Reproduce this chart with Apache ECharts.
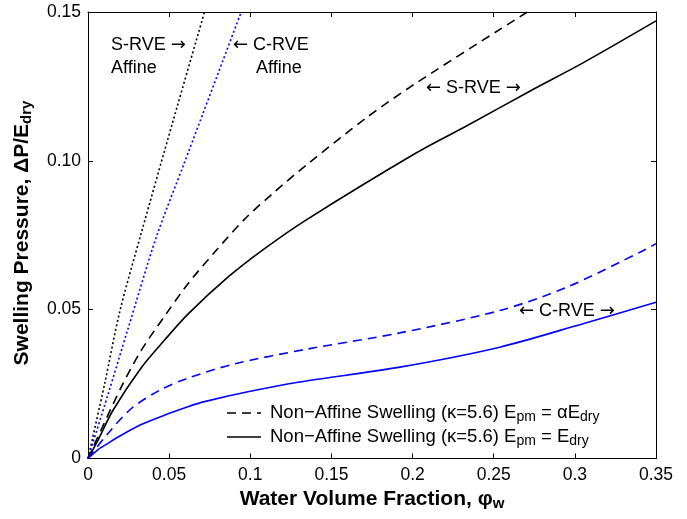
<!DOCTYPE html>
<html>
<head>
<meta charset="utf-8">
<script src="https://cdn.jsdelivr.net/npm/echarts@6/dist/echarts.min.js"></script>
<style>
  html, body { margin: 0; padding: 0; background: #fff; }
  #chart { width: 687px; height: 519px; }
</style>
</head>
<body>
<div id="chart"></div>
<script>
// [phi_w, dP/E_dry]
const sRveAffine = [[0, 0], [0.0103, 0.0252], [0.0195, 0.0492], [0.0328, 0.0757], [0.0521, 0.1128], [0.0718, 0.15]]
const cRveAffine = [[0, 0], [0.0123, 0.0215], [0.0246, 0.0435], [0.0421, 0.0744], [0.0595, 0.0995], [0.0944, 0.15]]
const sRveAlpha = [[0, 0], [0.0205, 0.024], [0.0328, 0.0363], [0.0482, 0.0486], [0.0616, 0.0587], [0.078, 0.0693],
    [0.0965, 0.0804], [0.115, 0.0896], [0.1355, 0.099], [0.1716, 0.1145], [0.2024, 0.1262], [0.2707, 0.15]]
const sRveDry = [[0, 0], [0.0062, 0.0062], [0.0154, 0.0162], [0.0328, 0.0305], [0.0472, 0.0398], [0.0616, 0.0485],
    [0.0862, 0.0609], [0.1088, 0.0705], [0.1355, 0.0805], [0.2024, 0.1027], [0.2332, 0.1117], [0.2722, 0.1234],
    [0.305, 0.1329], [0.35, 0.147]]
const cRveAlpha = [[0, 0], [0.0123, 0.0084], [0.0267, 0.0168], [0.0451, 0.0232], [0.0616, 0.027], [0.0903, 0.0318],
    [0.1355, 0.0368], [0.1921, 0.0422], [0.2537, 0.0497], [0.2948, 0.0575], [0.342, 0.0698], [0.35, 0.0722]]
const cRveDry = [[0, 0], [0.0062, 0.003], [0.0123, 0.0051], [0.0185, 0.0072], [0.0328, 0.0114], [0.0493, 0.015],
    [0.0616, 0.0174], [0.0718, 0.0191], [0.0985, 0.0224], [0.1305, 0.0257], [0.1921, 0.0307], [0.2537, 0.0374],
    [0.305, 0.0453], [0.35, 0.0525]]

const font = '"Liberation Sans", Arial, Helvetica, sans-serif'
const black = '#000000'
const blue = '#0000ff'

const chart = echarts.init(document.getElementById('chart'))

const mkLine = function (name, data, color, type) {
    return {
        name,
        type: 'line',
        data,
        symbol: 'none',
        smooth: 0.3,
        clip: true,
        silent: true,
        lineStyle: { color, width: 1.6, type }
    }
}

const axisCommon = {
    type: 'value',
    min: 0,
    axisLine: { show: true, onZero: false, lineStyle: { color: black, width: 1 } },
    axisTick: { show: true, inside: true, length: 5, lineStyle: { color: black } },
    splitLine: { show: false }
}

const sub = { fontSize: 14, fontFamily: font, verticalAlign: 'bottom', padding: [8, 0, 0, 0] }
const subB = { fontSize: 15, fontFamily: font, fontWeight: 'bold', verticalAlign: 'bottom', padding: [9, 0, 0, 0] }
const arrow = { fontSize: 18, fontFamily: '"DejaVu Sans", sans-serif' }

const note = function (x, y, text) {
    return {
        type: 'text', x, y,
        style: { text, fill: black, font: '18px ' + font, verticalAlign: 'middle', rich: { a: arrow } }
    }
}

const option = {
    animation: false,
    grid: { left: 88, right: 31, top: 12, bottom: 60.5 },
    xAxis: [
        Object.assign({}, axisCommon, {
            max: 0.35, interval: 0.05, position: 'bottom',
            axisLabel: { color: black, fontSize: 17.5, fontFamily: font, margin: 8,
                formatter: v => String(+v.toFixed(2)) }
        }),
        Object.assign({}, axisCommon, {
            max: 0.35, interval: 0.05, position: 'top',
            axisLabel: { show: false }
        })
    ],
    yAxis: [
        Object.assign({}, axisCommon, {
            max: 0.15, interval: 0.05, position: 'left',
            axisLabel: { color: black, fontSize: 17.5, fontFamily: font, margin: 7,
                formatter: v => v === 0 ? '0' : v.toFixed(2) }
        }),
        Object.assign({}, axisCommon, {
            max: 0.15, interval: 0.05, position: 'right',
            axisLabel: { show: false }
        })
    ],
    series: [
        mkLine('S-RVE Affine', sRveAffine, black, [2, 2.5]),
        mkLine('C-RVE Affine', cRveAffine, blue, [2, 2.5]),
        mkLine('S-RVE alpha', sRveAlpha, black, [9, 6]),
        mkLine('S-RVE dry', sRveDry, black, 'solid'),
        mkLine('C-RVE alpha', cRveAlpha, blue, [9, 6]),
        mkLine('C-RVE dry', cRveDry, blue, 'solid')
    ],
    graphic: [
        // axis titles
        {
            type: 'text', x: 22, y: 233, rotation: Math.PI / 2,
            style: {
                text: 'Swelling Pressure, ΔP/E{s|dry}',
                fill: black, font: 'bold 21px ' + font, align: 'center', verticalAlign: 'middle',
                rich: { s: subB }
            }
        },
        {
            type: 'text', x: 372, y: 499,
            style: {
                text: 'Water Volume Fraction, φ{s|w}',
                fill: black, font: 'bold 21px ' + font, align: 'center', verticalAlign: 'middle',
                rich: { s: subB }
            }
        },
        // curve annotations
        note(111, 45, 'S-RVE {a|→}'),
        note(111, 68, 'Affine'),
        note(233, 45, '{a|←} C-RVE'),
        note(256, 68, 'Affine'),
        note(426, 88, '{a|←} S-RVE {a|→}'),
        note(519, 311, '{a|←} C-RVE {a|→}'),
        // legend
        { type: 'line', shape: { x1: 227, y1: 413, x2: 261, y2: 413 }, style: { stroke: black, lineWidth: 1.6, lineDash: [9, 6] } },
        { type: 'line', shape: { x1: 227, y1: 437, x2: 261, y2: 437 }, style: { stroke: black, lineWidth: 1.6 } },
        {
            type: 'text', x: 270, y: 413,
            style: {
                text: 'Non−Affine Swelling (κ=5.6) E{s|pm} = αE{s|dry}',
                fill: black, font: '18.5px ' + font, verticalAlign: 'middle', rich: { s: sub }
            }
        },
        {
            type: 'text', x: 270, y: 437,
            style: {
                text: 'Non−Affine Swelling (κ=5.6) E{s|pm} = E{s|dry}',
                fill: black, font: '18.5px ' + font, verticalAlign: 'middle', rich: { s: sub }
            }
        }
    ]
}

chart.setOption(option)
</script>
</body>
</html>
